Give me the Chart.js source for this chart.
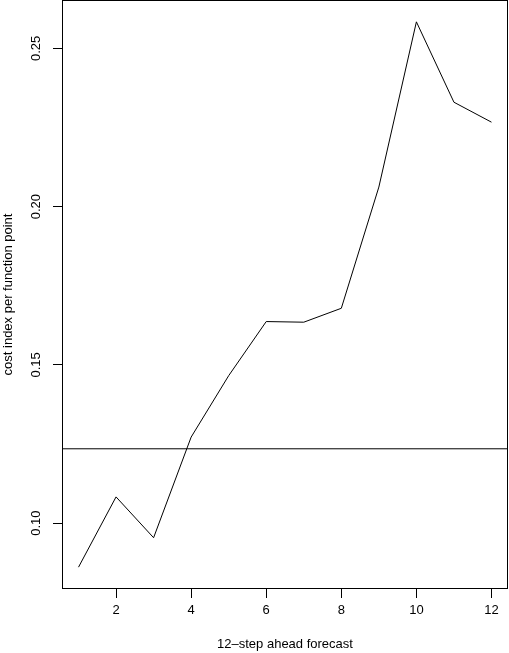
<!DOCTYPE html>
<html>
<head>
<meta charset="utf-8">
<script src="https://cdn.jsdelivr.net/npm/chart.js@4/dist/chart.umd.min.js"></script>
<style>
    html, body { margin: 0; padding: 0; background: #fff; }
    #wrap { width: 509px; height: 653px; position: relative; }
</style>
</head>
<body>
<div id="wrap"><canvas id="forecastChart"></canvas></div>
<script>
// forecast horizon (steps) and the cost index
const steps = [1, 2, 3, 4, 5, 6, 7, 8, 9, 10, 11, 12];
const costIndex = [0.0861, 0.1083, 0.0954, 0.1272, 0.1466, 0.1637, 0.1635, 0.1679, 0.2062, 0.2584, 0.2330, 0.2267];
const refLevel = 0.1235;

const xTicks = [2, 4, 6, 8, 10, 12];
const yTicks = [0.10, 0.15, 0.20, 0.25];
const xRange = [0.56, 12.44];
const yRange = [0.0792, 0.2653];

const FONT = { family: 'Liberation Sans, Arial, sans-serif', size: 13 };

// box around the plot region, like R's default frame
const framePlugin = {
    id: 'frame',
    afterDraw(chart) {
        const { ctx, chartArea: a } = chart;
        ctx.save();
        ctx.strokeStyle = '#000';
        ctx.lineWidth = 1;
        ctx.strokeRect(a.left + 0.5, a.top + 0.5, a.right - a.left - 1, a.bottom - a.top - 1);
        ctx.restore();
    }
};

const ctx = document.getElementById('forecastChart').getContext('2d');
new Chart(ctx, {
    type: 'line',
    data: {
        datasets: [
            {
                data: steps.map((s, i) => ({ x: s, y: costIndex[i] })),
                borderColor: '#000',
                borderWidth: 1,
                pointRadius: 0,
                tension: 0
            },
            {
                data: xRange.map(x => ({ x: x, y: refLevel })),
                borderColor: '#000',
                borderWidth: 1,
                pointRadius: 0
            }
        ]
    },
    options: {
        responsive: true,
        maintainAspectRatio: false,
        animation: false,
        devicePixelRatio: 1,
        layout: { padding: { left: 0, right: 1, top: 0, bottom: 0 } },
        plugins: {
            legend: { display: false },
            tooltip: { enabled: false }
        },
        scales: {
            x: {
                type: 'linear',
                min: xRange[0],
                max: xRange[1],
                afterBuildTicks: scale => { scale.ticks = xTicks.map(v => ({ value: v })); },
                afterFit: scale => {
                    scale.height = 64;
                    scale.paddingLeft = 0;
                    scale.paddingRight = 0;
                },
                grid: { drawOnChartArea: false, drawTicks: true, tickLength: 9, color: '#000' },
                border: { display: false },
                ticks: { color: '#000', font: FONT, padding: 5, maxRotation: 0, callback: v => String(v) },
                title: {
                    display: true,
                    text: '12\u2013step ahead forecast',
                    color: '#000',
                    font: FONT,
                    padding: { top: 0, bottom: 1 }
                }
            },
            y: {
                type: 'linear',
                min: yRange[0],
                max: yRange[1],
                afterBuildTicks: scale => { scale.ticks = yTicks.map(v => ({ value: v })); },
                afterFit: scale => {
                    scale.width = 62;
                    scale.paddingTop = 0;
                    scale.paddingBottom = 0;
                },
                grid: { drawOnChartArea: false, drawTicks: true, tickLength: 9, color: '#000' },
                border: { display: false },
                ticks: {
                    color: '#000',
                    font: FONT,
                    padding: 4,
                    minRotation: 90,
                    maxRotation: 90,
                    crossAlign: 'center',
                    callback: v => v.toFixed(2)
                },
                title: {
                    display: true,
                    text: 'cost index per function point',
                    color: '#000',
                    font: FONT,
                    padding: { top: 1, bottom: 0 }
                }
            }
        }
    },
    plugins: [framePlugin]
});
</script>
</body>
</html>
